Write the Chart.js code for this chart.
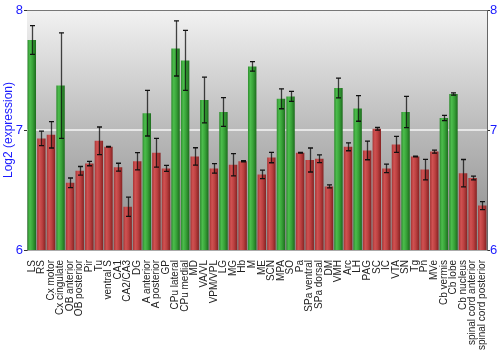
<!DOCTYPE html>
<html>
<head>
<meta charset="utf-8">
<script src="https://cdn.jsdelivr.net/npm/chart.js@4/dist/chart.umd.min.js"></script>
<style>
  html, body { margin: 0; padding: 0; background: #ffffff; }
  #wrap { width: 500px; height: 350px; }
</style>
</head>
<body>
<div id="wrap"><canvas id="c" width="500" height="350"></canvas></div>
<script>
// Brain regions, in plotting order
const categories = [
  'LS', 'RS', 'Cx motor', 'Cx cingulate', 'OB anterior', 'OB posterior', 'Pir', 'Tu',
  'ventral S', 'CA1', 'CA2/CA3', 'DG', 'A anterior', 'A posterior', 'GP', 'CPu lateral',
  'CPu medial', 'MD', 'VA/VL', 'VPM/VPL', 'LG', 'MG', 'Hb', 'M',
  'ME', 'SCN', 'MPA', 'SO', 'Pa', 'SPa ventral', 'SPa dorsal', 'DM',
  'VMH', 'Arc', 'LH', 'PAG', 'SC', 'IC', 'VTA', 'SN',
  'Tg', 'Pn', 'MVe', 'Cb vermis', 'Cb lobe', 'Cb nucleus', 'spinal cord anterior', 'spinal cord posterior'
];

// Mean log2 expression per region
const expression = [
  7.75, 6.93, 6.96, 7.37, 6.56, 6.66, 6.72, 6.91,
  6.86, 6.69, 6.36, 6.74, 7.14, 6.81, 6.68, 7.68,
  7.58, 6.78, 7.25, 6.68, 7.15, 6.71, 6.74, 7.53,
  6.63, 6.77, 7.26, 7.28, 6.81, 6.75, 6.76, 6.53,
  7.35, 6.86, 7.18, 6.83, 7.01, 6.68, 6.88, 7.15,
  6.78, 6.67, 6.82, 7.10, 7.30, 6.64, 6.60, 6.37
];

// Error (half-length of each error bar)
const errors = [
  0.12, 0.06, 0.11, 0.44, 0.04, 0.036, 0.018, 0.115,
  0.003, 0.033, 0.08, 0.072, 0.19, 0.12, 0.025, 0.23,
  0.25, 0.072, 0.19, 0.04, 0.12, 0.093, 0.005, 0.04,
  0.035, 0.043, 0.083, 0.042, 0.003, 0.10, 0.032, 0.012,
  0.082, 0.033, 0.107, 0.078, 0.011, 0.036, 0.067, 0.13,
  0.003, 0.086, 0.012, 0.022, 0.01, 0.114, 0.016, 0.033
];

// 1 = enriched region (green), 0 = other (red)
const enriched = [
  1, 0, 0, 1, 0, 0, 0, 0,
  0, 0, 0, 0, 1, 0, 0, 1,
  1, 0, 1, 0, 1, 0, 0, 1,
  0, 0, 1, 1, 0, 0, 0, 0,
  1, 0, 1, 0, 0, 0, 0, 1,
  0, 0, 0, 1, 1, 0, 0, 0
];

// Y axis tick values
const yTicks = [6, 7, 8];

const BAR_PCT = 0.88;
const GREEN_STOPS = [[0, '#2e8c2e'], [0.28, '#4cbd4c'], [0.6, '#38a238'], [1, '#1d6b1d']];
const RED_STOPS = [[0, '#a83434'], [0.28, '#d05252'], [0.6, '#bb4040'], [1, '#852222']];

function barFill(c) {
  const chart = c.chart;
  const xs = chart.scales.x;
  const stops = enriched[c.dataIndex] ? GREEN_STOPS : RED_STOPS;
  if (!xs || c.dataIndex === undefined || !isFinite(xs.width) || xs.width <= 0) return stops[1][1];
  const cx = xs.getPixelForValue(c.dataIndex);
  const w = (xs.width / categories.length) * BAR_PCT;
  const g = chart.ctx.createLinearGradient(cx - w / 2, 0, cx + w / 2, 0);
  stops.forEach(s => g.addColorStop(s[0], s[1]));
  return g;
}

// Plot-area background and top frame line
const backdrop = {
  id: 'backdrop',
  beforeDatasetsDraw(chart) {
    const { ctx, chartArea: a } = chart;
    ctx.save();
    const g = ctx.createLinearGradient(0, a.top, 0, a.bottom);
    g.addColorStop(0, '#f2f2f2');
    g.addColorStop(0.5, '#bababa');
    g.addColorStop(1, '#8a8a8a');
    ctx.fillStyle = g;
    ctx.fillRect(a.left, a.top, a.right - a.left, a.bottom - a.top);
    // reference line at 7
    const y7 = chart.scales.y.getPixelForValue(7);
    ctx.strokeStyle = '#f6f6f6';
    ctx.lineWidth = 1.5;
    ctx.beginPath();
    ctx.moveTo(a.left, y7);
    ctx.lineTo(a.right, y7);
    ctx.stroke();
    ctx.strokeStyle = '#777777';
    ctx.lineWidth = 1;
    ctx.beginPath();
    ctx.moveTo(a.left, a.top + 0.5);
    ctx.lineTo(a.right, a.top + 0.5);
    ctx.stroke();
    ctx.restore();
  }
};

// Error bars drawn from each bar's value through the y scale
const errorBars = {
  id: 'errorBars',
  afterDatasetsDraw(chart) {
    const { ctx } = chart;
    const ys = chart.scales.y;
    const meta = chart.getDatasetMeta(0);
    ctx.save();
    meta.data.forEach((bar, i) => {
      const hi = ys.getPixelForValue(expression[i] + errors[i]);
      const lo = ys.getPixelForValue(expression[i] - errors[i]);
      const x = Math.round(bar.x) + 0.5;
      ctx.strokeStyle = 'rgba(10,10,10,0.75)';
      ctx.lineWidth = 1.3;
      ctx.beginPath();
      ctx.moveTo(x, hi);
      ctx.lineTo(x, lo);
      ctx.stroke();
      ctx.strokeStyle = '#111111';
      ctx.lineWidth = 1.3;
      ctx.beginPath();
      ctx.moveTo(x - 2.5, hi);
      ctx.lineTo(x + 2.5, hi);
      ctx.moveTo(x - 2.5, lo);
      ctx.lineTo(x + 2.5, lo);
      ctx.stroke();
    });
    ctx.restore();
  }
};

const blue = '#1a1aff';

new Chart(document.getElementById('c'), {
  type: 'bar',
  data: {
    labels: categories,
    datasets: [{
      data: expression,
      backgroundColor: barFill,
      borderWidth: 0,
      barPercentage: BAR_PCT,
      categoryPercentage: 1.0
    }]
  },
  options: {
    responsive: false,
    animation: false,
    layout: { padding: { top: 10, bottom: 0, left: 0, right: 0 } },
    plugins: { legend: { display: false }, tooltip: { enabled: false } },
    scales: {
      x: {
        type: 'category',
        grid: { display: false },
        border: { color: '#aaaaaa' },
        ticks: {
          autoSkip: false,
          minRotation: 90,
          maxRotation: 90,
          padding: 2,
          color: '#222222',
          font: { family: 'Liberation Sans, Arial, sans-serif', size: 10 }
        },
        afterFit(s) { s.height = 100; }
      },
      y: {
        position: 'left',
        min: 6,
        max: 8,
        afterBuildTicks(s) { s.ticks = yTicks.map(v => ({ value: v })); },
        grid: {
          drawOnChartArea: false,
          tickLength: 3,
          tickColor: '#333333'
        },
        border: { color: '#666666' },
        ticks: {
          padding: 1,
          color: blue,
          font: { family: 'Liberation Sans, Arial, sans-serif', size: 13 }
        },
        title: {
          display: true,
          text: 'Log2 (expression)',
          color: blue,
          padding: { top: 1, bottom: 0 },
          font: { family: 'Liberation Sans, Arial, sans-serif', size: 12 }
        },
        afterFit(s) { s.width = 27; }
      },
      y2: {
        position: 'right',
        min: 6,
        max: 8,
        afterBuildTicks(s) { s.ticks = yTicks.map(v => ({ value: v })); },
        grid: {
          drawOnChartArea: false,
          tickLength: 3,
          tickColor: '#333333'
        },
        border: { color: '#666666' },
        ticks: {
          padding: 0,
          color: blue,
          font: { family: 'Liberation Sans, Arial, sans-serif', size: 13 }
        },
        afterFit(s) { s.width = 13; }
      }
    }
  },
  plugins: [backdrop, errorBars]
});
</script>
</body>
</html>
